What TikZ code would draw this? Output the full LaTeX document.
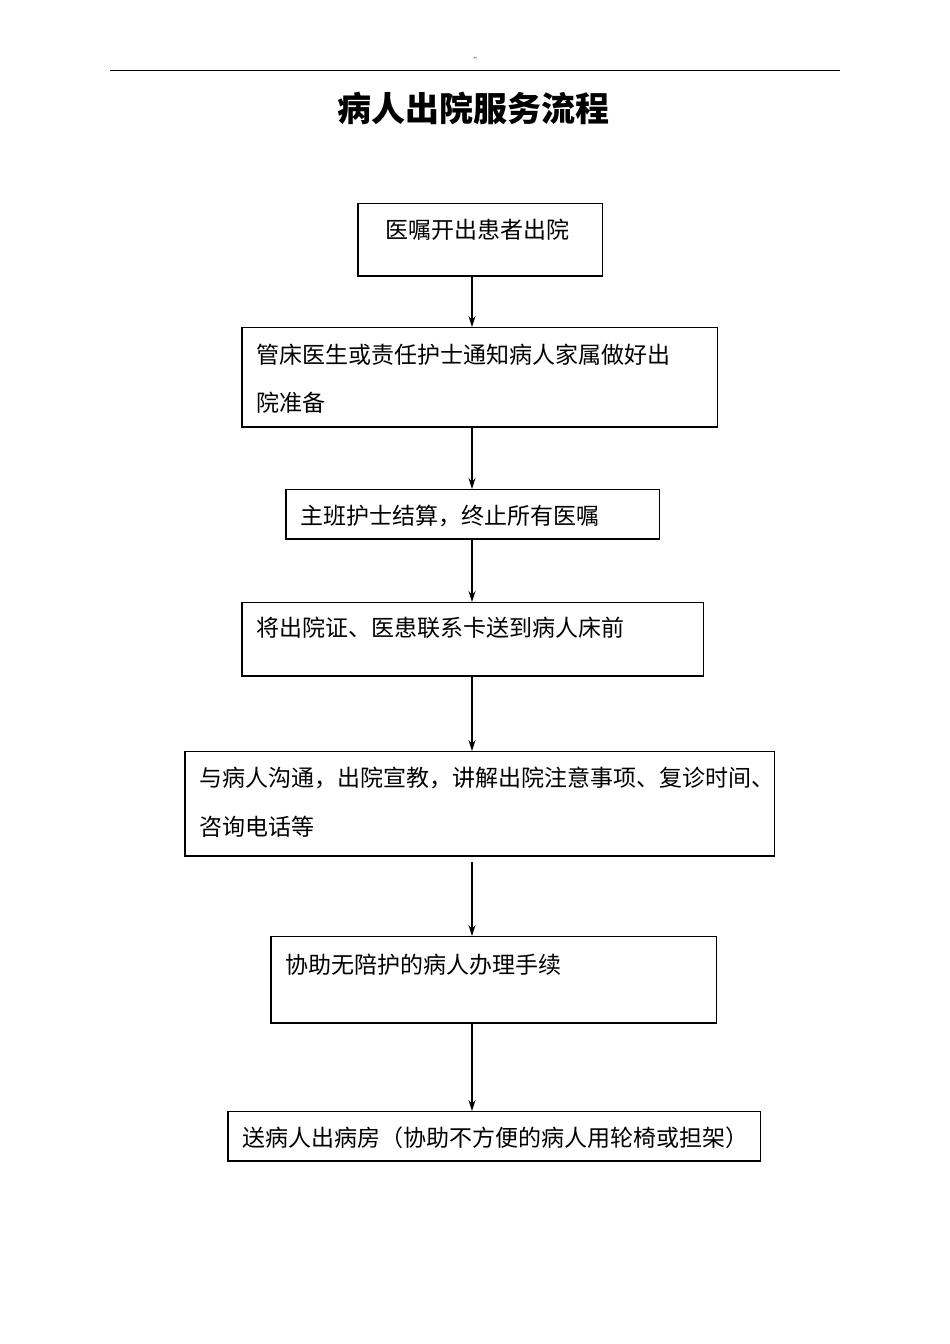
\documentclass[tikz,border=0pt]{standalone}
\usepackage{fontspec}
\usetikzlibrary{arrows.meta}
\newfontfamily\cjk{Noto Sans CJK SC}
\begin{document}
\begin{tikzpicture}[x=1pt,y=-1pt,
  txt/.style={font=\cjk\fontsize{23}{27}\selectfont,anchor=west,inner sep=0},
  arr/.style={-{Stealth[length=11pt,width=7pt]},line width=1.2pt}]
\useasboundingbox (0,0) rectangle (950,1344);
\draw[line width=1pt] (110,70) -- (840,70);
\node[font=\fontsize{9}{9}\selectfont] (q) at (475,60) {"};
\node[font=\cjk\bfseries\fontsize{34}{38}\selectfont] (title) at (473,108) {病人出院服务流程};
\newcommand\bx[5]{\draw[line width=0.8pt] (#2,#3) rectangle (#4,#5);
  \draw[line width=1.6pt] (#2,#3) -- (#2,#5) -- (#4,#5);
  \coordinate (#1t) at (472,#3); \coordinate (#1b) at (472,#5);}
\bx{a}{358}{203}{602}{276}
\bx{b}{242}{327}{717}{427}
\bx{c}{286}{489}{659}{539}
\bx{d}{242}{602}{703}{676}
\bx{e}{185}{751}{774}{856}
\bx{f}{271}{936}{716}{1023}
\bx{g}{228}{1111}{760}{1161}
\node[txt] (ta) at (385,230) {医嘱开出患者出院};
\node[txt] (tb1) at (256,355) {管床医生或责任护士通知病人家属做好出};
\node[txt] (tb2) at (256,403) {院准备};
\node[txt] (tc) at (300,516) {主班护士结算，终止所有医嘱};
\node[txt] (td) at (256,628) {将出院证、医患联系卡送到病人床前};
\node[txt] (te1) at (199,778) {与病人沟通，出院宣教，讲解出院注意事项、复诊时间、};
\node[txt] (te2) at (199,827) {咨询电话等};
\node[txt] (tf) at (285,965) {协助无陪护的病人办理手续};
\node[txt] (tg) at (242,1138) {送病人出病房（协助不方便的病人用轮椅或担架）};
\draw[arr] (ab) -- (bt);
\draw[arr] (bb) -- (ct);
\draw[arr] (cb) -- (dt);
\draw[arr] (db) -- (et);
\draw[arr] ([yshift=-6pt]eb) -- (ft);
\draw[arr] (fb) -- (gt);
\end{tikzpicture}
\end{document}
